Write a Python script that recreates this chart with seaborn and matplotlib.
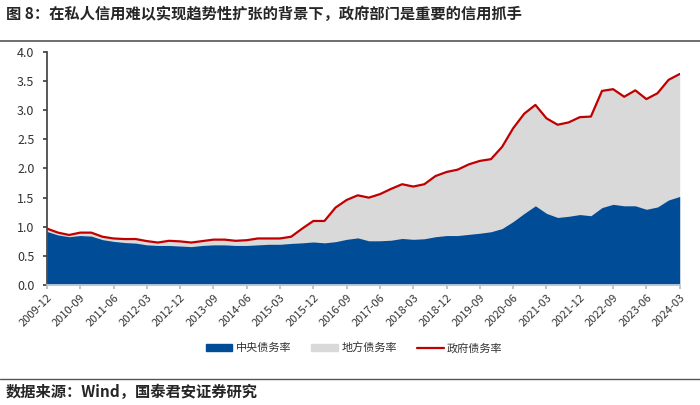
import numpy as np
import pandas as pd
import seaborn as sns
import matplotlib.pyplot as plt
from matplotlib.patches import Patch
from matplotlib.lines import Line2D

sns.set_theme(style="ticks")
plt.rcParams['font.family'] = ['Noto Sans CJK SC', 'DejaVu Sans']

# quarterly, 2009-12 .. 2024-03
quarters = [str(p) for p in pd.period_range("2009-12", "2024-03", freq="3M")]
tick_labels = quarters[::3]

central = [0.92, 0.86, 0.83, 0.85, 0.84, 0.78, 0.75, 0.73, 0.72, 0.69,
           0.68, 0.68, 0.67, 0.66, 0.68, 0.69, 0.69, 0.68, 0.68, 0.69,
           0.70, 0.70, 0.715, 0.725, 0.74, 0.725, 0.745, 0.785, 0.81, 0.76,
           0.76, 0.77, 0.80, 0.785, 0.795, 0.83, 0.85, 0.85, 0.87, 0.89,
           0.915, 0.97, 1.09, 1.23, 1.36, 1.23, 1.16, 1.18, 1.21, 1.19,
           1.33, 1.385, 1.36, 1.36, 1.30, 1.34, 1.46, 1.52]
total = [0.97, 0.90, 0.86, 0.90, 0.90, 0.83, 0.80, 0.79, 0.79, 0.755,
         0.73, 0.76, 0.75, 0.73, 0.755, 0.78, 0.78, 0.76, 0.77, 0.80,
         0.80, 0.80, 0.83, 0.97, 1.10, 1.10, 1.33, 1.46, 1.54, 1.50,
         1.56, 1.65, 1.73, 1.69, 1.73, 1.87, 1.94, 1.98, 2.07, 2.13,
         2.16, 2.37, 2.69, 2.94, 3.09, 2.86, 2.75, 2.79, 2.88, 2.89,
         3.33, 3.36, 3.23, 3.34, 3.19, 3.29, 3.52, 3.62]

df = pd.DataFrame({"quarter": quarters, "中央债务率": central, "政府债务率": total})
df["idx"] = range(len(df))

BLUE = "#014C97"
GREY = "#D9D9D9"
RED = "#C00000"

fig = plt.figure(figsize=(7, 4.05), dpi=100)
ax = fig.add_axes([0.067, 0.296, 0.904, 0.576])

ax.fill_between(df["idx"], 0, df["政府债务率"], color=GREY, linewidth=0)
ax.fill_between(df["idx"], 0, df["中央债务率"], color=BLUE, linewidth=0)
sns.lineplot(data=df, x="idx", y="政府债务率", color=RED, linewidth=1.6, ax=ax)

ax.set_xlim(0, len(df) - 1)
ax.set_ylim(0, 4.0)
ax.set_yticks(np.arange(0, 4.01, 0.5))
ax.set_yticklabels([f"{v:.1f}" for v in np.arange(0, 4.01, 0.5)], fontsize=9, color="#333333")
ax.set_xticks(df["idx"][::3])
ax.set_xticklabels(tick_labels, rotation=45, ha="right", rotation_mode="anchor",
                   fontsize=8, color="#333333")
ax.set_xlabel("")
ax.set_ylabel("")
sns.despine(ax=ax)
ax.spines["left"].set_color("#444444")
ax.spines["bottom"].set_color("#C8D3E0")
ax.tick_params(axis="y", length=3, color="#444444", pad=6)
ax.tick_params(axis="x", length=3, color="#BBBBBB", pad=2)

handles = [Patch(color=BLUE, label="中央债务率"),
           Patch(color=GREY, label="地方债务率"),
           Line2D([], [], color=RED, linewidth=1.6, label="政府债务率")]
fig.legend(handles=handles, loc="center", bbox_to_anchor=(0.506, 0.141), ncol=3,
           frameon=False, fontsize=8, handlelength=2.4, handleheight=0.6,
           handletextpad=0.3, columnspacing=1.8, labelcolor="#333333")

fig.text(0.008, 0.965, "图 8：在私人信用难以实现趋势性扩张的背景下，政府部门是重要的信用抓手",
         fontsize=11, fontweight="bold", va="center", ha="left")
fig.add_artist(Line2D([0, 1], [0.9, 0.9], color="#555555", linewidth=1.2))
fig.add_artist(Line2D([0, 1], [0.065, 0.065], color="#555555", linewidth=1.0))
fig.text(0.008, 0.032, "数据来源：Wind，国泰君安证券研究",
         fontsize=11, fontweight="bold", va="center", ha="left")

fig.savefig("out.png", dpi=100)
